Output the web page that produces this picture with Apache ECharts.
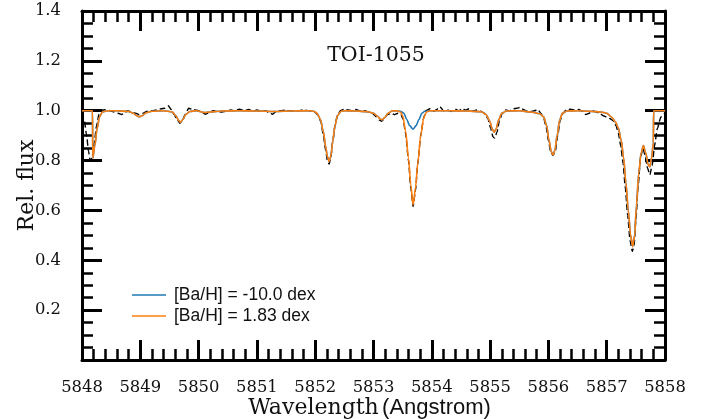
<!DOCTYPE html>
<html>
<head>
<meta charset="utf-8">
<script src="https://cdn.jsdelivr.net/npm/echarts@6/dist/echarts.min.js"></script>
<style>html,body{margin:0;padding:0;background:#fff}#c{width:715px;height:419px}</style>
</head>
<body>
<div id="c"></div>
<script>
// ---- Data ----
const chartTitle = "TOI-1055";
const xName = "Wavelength";
const xNameUnit = "(Angstrom)";
const yName = "Rel. flux";
const xMin = 5848, xMax = 5858, xStep = 1;
const yMin = 0, yMax = 1.4, yStep = 0.2;
const legendNames = ["[Ba/H] = -10.0 dex", "[Ba/H] = 1.83 dex"];

// Model with [Ba/H] = 1.83 dex (orange)
const modelHighWave = [5848.00,5848.18,5848.185,5848.22,5848.26,5848.30,5848.35,5848.45,5848.60,5848.80,5848.88,5848.94,5848.98,5849.03,5849.10,5849.20,5849.40,5849.55,5849.61,5849.66,5849.69,5849.73,5849.78,5849.85,5849.95,5850.10,5850.20,5850.40,5850.70,5851.00,5851.30,5851.60,5851.90,5851.97,5852.03,5852.09,5852.14,5852.18,5852.21,5852.24,5852.27,5852.30,5852.34,5852.38,5852.44,5852.50,5852.70,5852.90,5853.00,5853.07,5853.12,5853.15,5853.19,5853.25,5853.32,5853.40,5853.46,5853.50,5853.55,5853.60,5853.64,5853.68,5853.72,5853.76,5853.81,5853.86,5853.91,5853.98,5854.30,5854.60,5854.85,5854.93,5854.99,5855.04,5855.07,5855.10,5855.15,5855.20,5855.28,5855.50,5855.70,5855.85,5855.92,5855.97,5856.01,5856.05,5856.08,5856.11,5856.15,5856.19,5856.24,5856.32,5856.50,5856.70,5856.90,5857.00,5857.08,5857.15,5857.20,5857.25,5857.29,5857.33,5857.37,5857.41,5857.445,5857.48,5857.51,5857.55,5857.59,5857.63,5857.67,5857.71,5857.74,5857.77,5857.80,5857.805,5858.00];
const modelHighFlux = [1.0,1.0,0.81,0.86,0.93,0.975,0.995,1.0,1.0,0.997,0.99,0.98,0.976,0.98,0.992,0.998,1.0,0.995,0.98,0.96,0.954,0.965,0.985,0.997,1.0,0.993,0.995,0.999,1.0,0.999,0.997,0.999,1.0,0.998,0.99,0.965,0.915,0.855,0.815,0.796,0.82,0.875,0.94,0.98,0.997,1.0,0.999,0.996,0.99,0.978,0.966,0.964,0.972,0.99,0.999,1.0,0.995,0.98,0.92,0.81,0.70,0.622,0.69,0.79,0.90,0.97,0.995,1.0,1.0,0.999,0.996,0.985,0.96,0.925,0.914,0.925,0.965,0.99,0.999,1.0,0.995,0.988,0.975,0.94,0.88,0.835,0.823,0.84,0.90,0.96,0.99,0.999,1.0,0.998,0.995,0.99,0.975,0.955,0.93,0.88,0.81,0.71,0.60,0.50,0.455,0.50,0.62,0.75,0.83,0.86,0.83,0.785,0.775,0.81,0.87,1.0,1.0];

// Model with [Ba/H] = -10.0 dex (blue): same as above except the Ba line near 5853.68
const modelLowWave = [5848.00,5848.18,5848.185,5848.22,5848.26,5848.30,5848.35,5848.45,5848.60,5848.80,5848.88,5848.94,5848.98,5849.03,5849.10,5849.20,5849.40,5849.55,5849.61,5849.66,5849.69,5849.73,5849.78,5849.85,5849.95,5850.10,5850.20,5850.40,5850.70,5851.00,5851.30,5851.60,5851.90,5851.97,5852.03,5852.09,5852.14,5852.18,5852.21,5852.24,5852.27,5852.30,5852.34,5852.38,5852.44,5852.50,5852.70,5852.90,5853.00,5853.07,5853.12,5853.15,5853.19,5853.25,5853.32,5853.40,5853.46,5853.52,5853.57,5853.62,5853.68,5853.73,5853.78,5853.83,5853.88,5853.98,5854.30,5854.60,5854.85,5854.93,5854.99,5855.04,5855.07,5855.10,5855.15,5855.20,5855.28,5855.50,5855.70,5855.85,5855.92,5855.97,5856.01,5856.05,5856.08,5856.11,5856.15,5856.19,5856.24,5856.32,5856.50,5856.70,5856.90,5857.00,5857.08,5857.15,5857.20,5857.25,5857.29,5857.33,5857.37,5857.41,5857.445,5857.48,5857.51,5857.55,5857.59,5857.63,5857.67,5857.71,5857.74,5857.77,5857.80,5857.805,5858.00];
const modelLowFlux = [1.0,1.0,0.81,0.86,0.93,0.975,0.995,1.0,1.0,0.997,0.99,0.98,0.976,0.98,0.992,0.998,1.0,0.995,0.98,0.96,0.954,0.965,0.985,0.997,1.0,0.993,0.995,0.999,1.0,0.999,0.997,0.999,1.0,0.998,0.99,0.965,0.915,0.855,0.815,0.796,0.82,0.875,0.94,0.98,0.997,1.0,0.999,0.996,0.99,0.978,0.966,0.964,0.972,0.99,0.999,1.0,0.998,0.99,0.965,0.94,0.926,0.94,0.965,0.99,0.998,1.0,1.0,0.999,0.996,0.985,0.96,0.925,0.914,0.925,0.965,0.99,0.999,1.0,0.995,0.988,0.975,0.94,0.88,0.835,0.823,0.84,0.90,0.96,0.99,0.999,1.0,0.998,0.995,0.99,0.975,0.955,0.93,0.88,0.81,0.71,0.60,0.50,0.455,0.50,0.62,0.75,0.83,0.86,0.83,0.785,0.775,0.81,0.87,1.0,1.0];

// Observed spectrum (black dashed)
const obsWave = [5848.00,5848.04,5848.08,5848.11,5848.14,5848.17,5848.21,5848.25,5848.29,5848.33,5848.40,5848.48,5848.55,5848.62,5848.68,5848.72,5848.78,5848.85,5848.92,5848.98,5849.05,5849.12,5849.20,5849.28,5849.36,5849.42,5849.48,5849.53,5849.58,5849.63,5849.68,5849.72,5849.77,5849.83,5849.90,5849.97,5850.05,5850.12,5850.18,5850.25,5850.32,5850.40,5850.48,5850.55,5850.62,5850.70,5850.78,5850.86,5850.93,5851.00,5851.08,5851.15,5851.22,5851.27,5851.33,5851.40,5851.50,5851.60,5851.70,5851.80,5851.90,5851.98,5852.04,5852.10,5852.14,5852.18,5852.21,5852.24,5852.27,5852.30,5852.34,5852.38,5852.43,5852.50,5852.57,5852.64,5852.70,5852.78,5852.85,5852.92,5852.98,5853.05,5853.10,5853.14,5853.18,5853.24,5853.30,5853.36,5853.42,5853.47,5853.51,5853.55,5853.60,5853.64,5853.68,5853.72,5853.76,5853.81,5853.86,5853.90,5853.97,5854.03,5854.08,5854.14,5854.20,5854.27,5854.33,5854.40,5854.46,5854.52,5854.58,5854.64,5854.70,5854.77,5854.84,5854.90,5854.96,5855.01,5855.05,5855.08,5855.12,5855.16,5855.21,5855.27,5855.33,5855.40,5855.46,5855.51,5855.57,5855.63,5855.70,5855.76,5855.82,5855.87,5855.92,5855.96,5856.00,5856.04,5856.08,5856.12,5856.16,5856.20,5856.25,5856.31,5856.38,5856.45,5856.52,5856.58,5856.64,5856.70,5856.76,5856.82,5856.88,5856.94,5857.00,5857.06,5857.11,5857.16,5857.20,5857.24,5857.28,5857.32,5857.36,5857.40,5857.44,5857.47,5857.50,5857.54,5857.58,5857.62,5857.66,5857.70,5857.74,5857.78,5857.82,5857.87,5857.93,5858.00];
const obsFlux = [0.99,0.96,0.90,0.84,0.80,0.81,0.87,0.94,0.985,1.002,1.004,1.0,0.995,0.99,0.985,0.99,1.0,0.995,0.99,0.985,0.99,0.998,1.0,1.003,1.008,1.01,1.02,1.005,0.985,0.965,0.95,0.96,0.985,1.01,1.005,1.002,0.995,0.986,0.992,1.0,0.997,0.995,0.998,1.003,1.0,1.006,1.0,1.005,0.998,1.003,0.997,1.0,0.99,0.986,0.998,1.0,1.002,0.998,1.0,1.003,1.0,0.996,0.985,0.955,0.90,0.84,0.80,0.786,0.815,0.875,0.94,0.98,1.0,1.006,1.003,1.0,1.005,0.998,1.0,0.995,0.99,0.975,0.963,0.958,0.967,0.985,0.99,0.984,0.99,0.985,0.965,0.91,0.80,0.69,0.616,0.68,0.79,0.90,0.97,1.0,1.008,0.998,1.004,1.016,1.0,1.003,0.997,1.006,1.0,1.008,1.002,1.008,0.998,1.003,0.998,0.99,0.97,0.93,0.895,0.89,0.915,0.96,0.99,1.003,1.0,1.008,1.01,1.013,1.005,0.998,0.997,1.0,1.004,0.99,0.97,0.935,0.88,0.835,0.82,0.84,0.90,0.96,0.99,1.004,1.006,1.002,1.005,0.998,0.985,0.99,1.0,0.995,0.99,0.98,0.975,0.968,0.96,0.94,0.91,0.86,0.79,0.69,0.58,0.48,0.435,0.46,0.56,0.70,0.81,0.85,0.82,0.77,0.743,0.78,0.86,0.93,0.975,0.99];

// ---- Build the chart ----
const pairs = (w, f) => w.map((x, i) => [x, f[i]]);
const serif = "DejaVu Serif";
const sans = "Liberation Sans";

function makeX(pos, showLabels) {
  return {
    type: 'value', position: pos, min: xMin, max: xMax, interval: xStep,
    axisLine: { show: true, onZero: false, lineStyle: { color: '#000', width: 3 } },
    axisTick: { show: true, inside: true, length: 20, lineStyle: { color: '#000', width: 3 } },
    minorTick: { show: true, splitNumber: 5, length: 11, lineStyle: { color: '#000', width: 2.5 } },
    splitLine: { show: false },
    axisLabel: { show: showLabels, margin: 20, fontFamily: serif, fontSize: 16.4, color: '#111',
                 formatter: v => String(Math.round(v)) }
  };
}
function makeY(pos, showLabels) {
  return {
    type: 'value', position: pos, min: yMin, max: yMax, interval: yStep,
    axisLine: { show: true, onZero: false, lineStyle: { color: '#000', width: 3 } },
    axisTick: { show: true, inside: true, length: 20, lineStyle: { color: '#000', width: 3 } },
    minorTick: { show: true, splitNumber: 4, length: 11, lineStyle: { color: '#000', width: 2.5 } },
    splitLine: { show: false },
    axisLabel: { show: showLabels, margin: 21, fontFamily: serif, fontSize: 16.4, color: '#111',
                 formatter: v => (Math.abs(v) < 1e-9 ? '' : v.toFixed(1)) }
  };
}

const xBottom = makeX('bottom', true);
xBottom.name = '{a|' + xName + '} {b|' + xNameUnit + '}';
xBottom.nameLocation = 'middle';
xBottom.nameGap = 37;
xBottom.nameMoveOverlap = false;
xBottom.nameTextStyle = { padding: [0, 8, 0, 0],
                          rich: { a: { fontFamily: serif, fontSize: 22, color: '#111' },
                                  b: { fontFamily: sans, fontSize: 22, color: '#111' } } };
const yLeft = makeY('left', true);
yLeft.name = yName;
yLeft.nameLocation = 'middle';
yLeft.nameGap = 44;
yLeft.nameMoveOverlap = false;
yLeft.nameTextStyle = { fontFamily: serif, fontSize: 22, color: '#111' };

const chart = echarts.init(document.getElementById('c'), null, { renderer: 'canvas' });
chart.setOption({
  animation: false,
  backgroundColor: '#fff',
  title: { text: chartTitle, left: 371, top: 40, textAlign: 'center',
           textStyle: { fontFamily: serif, fontSize: 20.5, fontWeight: 'normal', color: '#111' } },
  grid: { left: 82, right: 50, top: 11, bottom: 59, containLabel: false, outerBoundsMode: 'none' },
  legend: {
    data: legendNames, orient: 'vertical', left: 127, top: 281, itemWidth: 34, itemHeight: 1.6,
    icon: 'rect', itemGap: 3,
    textStyle: { fontFamily: sans, fontSize: 17.5, color: '#111', padding: [0, 0, 0, 3] }
  },
  xAxis: [xBottom, makeX('top', false)],
  yAxis: [yLeft, makeY('right', false)],
  series: [
    { name: 'Observed', type: 'line', data: pairs(obsWave, obsFlux), symbol: 'none',
      smooth: 0.2, smoothMonotone: 'x', lineStyle: { color: '#000', width: 1.4, type: [6, 3] }, itemStyle: { color: '#000' }, z: 2 },
    { name: legendNames[0], type: 'line', data: pairs(modelLowWave, modelLowFlux), symbol: 'none',
      smooth: 0.3, smoothMonotone: 'x', lineStyle: { color: '#1f77b4', width: 1.6 }, itemStyle: { color: '#1f77b4' }, z: 3 },
    { name: legendNames[1], type: 'line', data: pairs(modelHighWave, modelHighFlux), symbol: 'none',
      smooth: 0.3, smoothMonotone: 'x', lineStyle: { color: '#ff7f0e', width: 1.6 }, itemStyle: { color: '#ff7f0e' }, z: 4 }
  ]
});
</script>
</body>
</html>
